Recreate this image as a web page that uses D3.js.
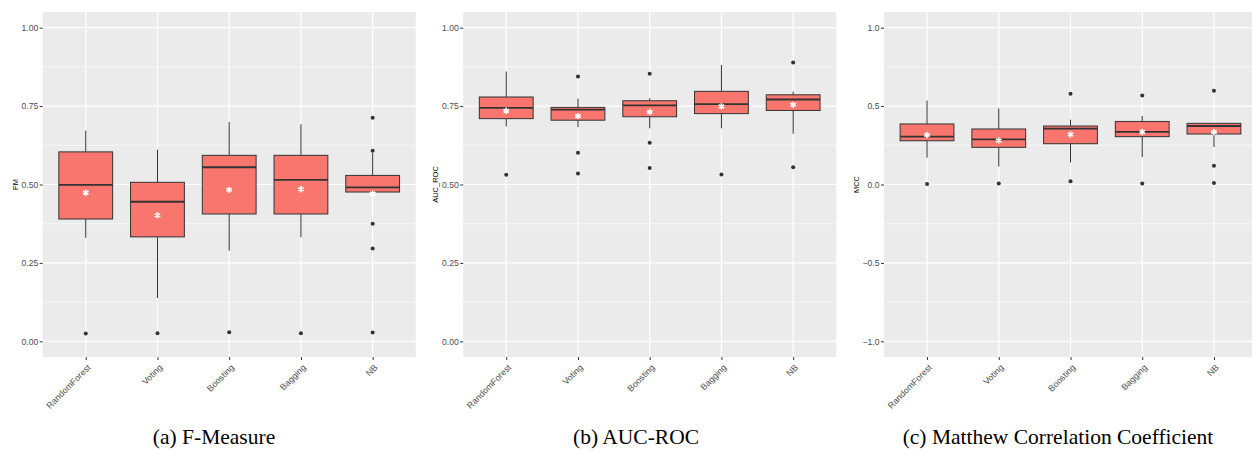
<!DOCTYPE html>
<meta charset="utf-8">
<style>
body { margin: 0; background: #fff; }
.tick text { font-family: "Liberation Sans", Arial, sans-serif; }
.caption { font-family: "Liberation Serif", "Times New Roman", serif; font-size: 21.5px; fill: #000; }
</style>
<script src="https://d3js.org/d3.v7.min.js"></script>
<div id="chart"></div>
<script>

// ---- data ----
var categories = ["RandomForest", "Voting", "Boosting", "Bagging", "NB"];

// F-Measure
var fmLow    = [0.330, 0.138, 0.289, 0.332, 0.465];
var fmQ1     = [0.390, 0.333, 0.406, 0.406, 0.476];
var fmMedian = [0.499, 0.445, 0.555, 0.515, 0.491];
var fmQ3     = [0.604, 0.507, 0.593, 0.593, 0.529];
var fmHigh   = [0.672, 0.611, 0.699, 0.692, 0.600];
var fmMean   = [0.474, 0.402, 0.483, 0.485, 0.471];
var fmOut    = [[0.025], [0.026], [0.029], [0.026], [0.713, 0.608, 0.375, 0.296, 0.028]];

// AUC-ROC
var aucLow    = [0.685, 0.683, 0.679, 0.679, 0.662];
var aucQ1     = [0.710, 0.705, 0.716, 0.726, 0.736];
var aucMedian = [0.744, 0.739, 0.752, 0.756, 0.771];
var aucQ3     = [0.779, 0.746, 0.767, 0.797, 0.786];
var aucHigh   = [0.860, 0.774, 0.775, 0.881, 0.796];
var aucMean   = [0.735, 0.718, 0.731, 0.749, 0.754];
var aucOut    = [[0.531], [0.844, 0.601, 0.535], [0.853, 0.633, 0.553], [0.532], [0.889, 0.555]];

// Matthew Correlation Coefficient
var mccLow    = [0.171, 0.115, 0.141, 0.175, 0.239];
var mccQ1     = [0.279, 0.237, 0.260, 0.305, 0.322];
var mccMedian = [0.305, 0.288, 0.356, 0.335, 0.373];
var mccQ3     = [0.386, 0.354, 0.373, 0.402, 0.390];
var mccHigh   = [0.536, 0.485, 0.413, 0.437, 0.392];
var mccMean   = [0.316, 0.281, 0.319, 0.335, 0.335];
var mccOut    = [[0.003], [0.007], [0.579, 0.020], [0.568, 0.007], [0.598, 0.120, 0.010]];

var fmTicks  = [0, 0.25, 0.5, 0.75, 1];
var mccTicks = [-1, -0.5, 0, 0.5, 1];

function rows(low, q1, med, q3, high, mean, out) {
  return categories.map(function (c, i) {
    return {cat: c, low: low[i], q1: q1[i], med: med[i], q3: q3[i], high: high[i], mean: mean[i], out: out[i]};
  });
}

var panels = [
  {left: 42.7, title: "FM", caption: "(a) F-Measure", capX: 214, domain: [-0.05, 1.05],
   ticks: fmTicks, fmt: d3.format(".2f"),
   data: rows(fmLow, fmQ1, fmMedian, fmQ3, fmHigh, fmMean, fmOut)},
  {left: 463.2, title: "AUC_ROC", caption: "(b) AUC-ROC", capX: 636, domain: [-0.05, 1.05],
   ticks: fmTicks, fmt: d3.format(".2f"),
   data: rows(aucLow, aucQ1, aucMedian, aucQ3, aucHigh, aucMean, aucOut)},
  {left: 884, title: "MCC", caption: "(c) Matthew Correlation Coefficient", capX: 1058, domain: [-1.1, 1.1],
   ticks: mccTicks, fmt: function (d) { return d3.format(".1f")(d).replace("-", "\u2212"); },
   data: rows(mccLow, mccQ1, mccMedian, mccQ3, mccHigh, mccMean, mccOut)}
];

var W = 1252, H = 455;
var panelW = 373, plotTop = 12, plotBottom = 357;

var svg = d3.select("#chart").append("svg")
  .attr("width", W)
  .attr("height", H);

panels.forEach(function (p) {
  var g = svg.append("g");

  var x = d3.scalePoint()
    .domain(categories)
    .range([p.left, p.left + panelW])
    .padding(0.6);
  var y = d3.scaleLinear()
    .domain(p.domain)
    .range([plotBottom, plotTop]);
  var boxW = x.step() * 0.75;

  // panel background
  g.append("rect")
    .attr("x", p.left).attr("y", plotTop)
    .attr("width", panelW).attr("height", plotBottom - plotTop)
    .attr("fill", "#EBEBEB");

  // minor grid
  var minor = d3.pairs(p.ticks).map(function (d) { return (d[0] + d[1]) / 2; });
  g.selectAll(".minor").data(minor).enter().append("line")
    .attr("x1", p.left).attr("x2", p.left + panelW)
    .attr("y1", function (d) { return y(d); }).attr("y2", function (d) { return y(d); })
    .attr("stroke", "#fff").attr("stroke-width", 0.6);

  // major grid
  g.selectAll(".majorY").data(p.ticks).enter().append("line")
    .attr("x1", p.left).attr("x2", p.left + panelW)
    .attr("y1", function (d) { return y(d); }).attr("y2", function (d) { return y(d); })
    .attr("stroke", "#fff").attr("stroke-width", 1.2);
  g.selectAll(".majorX").data(categories).enter().append("line")
    .attr("x1", function (d) { return x(d); }).attr("x2", function (d) { return x(d); })
    .attr("y1", plotTop).attr("y2", plotBottom)
    .attr("stroke", "#fff").attr("stroke-width", 1.2);

  // axes
  var ya = g.append("g")
    .attr("transform", "translate(" + p.left + ",0)")
    .call(d3.axisLeft(y).tickValues(p.ticks).tickFormat(p.fmt).tickSize(3).tickPadding(1.5));
  ya.select(".domain").remove();
  ya.selectAll("line").attr("stroke", "#333");
  ya.selectAll("text").attr("fill", "#4D4D4D").style("font-size", "8.6px");

  var xa = g.append("g")
    .attr("transform", "translate(0," + plotBottom + ")")
    .call(d3.axisBottom(x).tickSize(3).tickPadding(2));
  xa.select(".domain").remove();
  xa.selectAll("line").attr("stroke", "#333");
  xa.selectAll("text")
    .attr("fill", "#4D4D4D").style("font-size", "8.8px")
    .attr("text-anchor", "end")
    .attr("y", 0).attr("dy", 0)
    .attr("transform", "translate(5,11) rotate(-45)");

  // y title
  g.append("text")
    .attr("transform", "translate(" + (p.left - 25) + "," + ((plotTop + plotBottom) / 2) + ") rotate(-90)")
    .attr("text-anchor", "middle")
    .style("font-family", "'Liberation Sans', Arial, sans-serif")
    .style("font-size", "7.5px")
    .text(p.title);

  // boxes
  var b = g.selectAll(".box").data(p.data).enter().append("g");
  b.append("line")
    .attr("x1", function (d) { return x(d.cat); }).attr("x2", function (d) { return x(d.cat); })
    .attr("y1", function (d) { return y(d.high); }).attr("y2", function (d) { return y(d.q3); })
    .attr("stroke", "#333").attr("stroke-width", 1);
  b.append("line")
    .attr("x1", function (d) { return x(d.cat); }).attr("x2", function (d) { return x(d.cat); })
    .attr("y1", function (d) { return y(d.q1); }).attr("y2", function (d) { return y(d.low); })
    .attr("stroke", "#333").attr("stroke-width", 1);
  b.append("rect")
    .attr("x", function (d) { return x(d.cat) - boxW / 2; })
    .attr("y", function (d) { return y(d.q3); })
    .attr("width", boxW)
    .attr("height", function (d) { return y(d.q1) - y(d.q3); })
    .attr("fill", "#F8766D").attr("stroke", "#333").attr("stroke-width", 1);
  b.append("line")
    .attr("x1", function (d) { return x(d.cat) - boxW / 2; }).attr("x2", function (d) { return x(d.cat) + boxW / 2; })
    .attr("y1", function (d) { return y(d.med); }).attr("y2", function (d) { return y(d.med); })
    .attr("stroke", "#333").attr("stroke-width", 1.8);

  // outliers
  b.each(function (d) {
    d3.select(this).selectAll("circle").data(d.out).enter().append("circle")
      .attr("cx", x(d.cat))
      .attr("cy", function (v) { return y(v); })
      .attr("r", 2)
      .attr("fill", "#333");
  });

  // means
  b.append("path")
    .attr("d", d3.symbol(d3.symbolAsterisk, 28))
    .attr("transform", function (d) { return "translate(" + x(d.cat) + "," + y(d.mean) + ")"; })
    .attr("fill", "none").attr("stroke", "#fff").attr("stroke-width", 1.6);

  // caption
  svg.append("text")
    .attr("class", "caption")
    .attr("x", p.capX).attr("y", 444)
    .attr("text-anchor", "middle")
    .text(p.caption);
});
</script>
